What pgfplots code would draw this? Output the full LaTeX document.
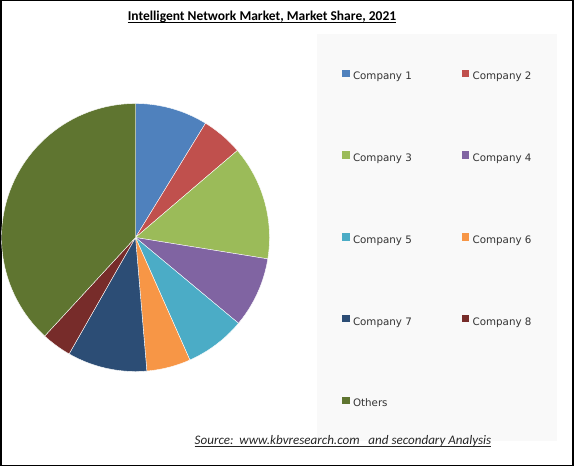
\documentclass[border=0pt]{standalone}
\usepackage{pgfplots}
\pgfplotsset{compat=1.18}
\usepackage{pgfplotstable}
\usepackage{fontspec}
\setmainfont{DejaVu Sans}
\newfontfamily\calibri{Carlito}
\definecolor{c0}{HTML}{4F81BD}
\definecolor{c1}{HTML}{C0504D}
\definecolor{c2}{HTML}{9BBB59}
\definecolor{c3}{HTML}{8064A2}
\definecolor{c4}{HTML}{4BACC6}
\definecolor{c5}{HTML}{F79646}
\definecolor{c6}{HTML}{2C4D75}
\definecolor{c7}{HTML}{772C2A}
\definecolor{c8}{HTML}{5F7530}
\definecolor{panel}{HTML}{F9F9F9}

\pgfplotstableread[col sep=comma]{
label,share
Company 1,8.75
Company 2,5.0
Company 3,13.8
Company 4,8.5
Company 5,7.3
Company 6,5.3
Company 7,9.6
Company 8,3.6
Others,38.15
}\piedata

\def\cumul{0}
\pgfplotsforeachungrouped \i in {0,...,8}{%
  \pgfplotstablegetelem{\i}{share}\of\piedata
  \pgfmathsetmacro\tmpHi{90-3.6*\cumul}%
  \pgfmathsetmacro\cumul{\cumul+\pgfplotsretval}%
  \pgfmathsetmacro\tmpLo{90-3.6*\cumul}%
  \expandafter\xdef\csname pieHi\i\endcsname{\tmpHi}%
  \expandafter\xdef\csname pieLo\i\endcsname{\tmpLo}%
  \pgfplotstablegetelem{\i}{label}\of\piedata
  \expandafter\xdef\csname pieLab\i\endcsname{\pgfplotsretval}%
}

\begin{document}
\begin{tikzpicture}[x=1bp,y=1bp]
\path[use as bounding box] (0,0) rectangle (576,-467);
\fill[white] (0,0) rectangle (576,-467);
\fill[panel] (317,-34) rectangle (557,-441);
\draw[line width=1.5bp] (0.75,-0.75) rectangle (573,-465.5);

\node[anchor=base, inner sep=0pt, font=\calibri\bfseries\fontsize{13.5bp}{16bp}\selectfont] (t) at (262,-20.3)
  {Intelligent Network Market, Market Share, 2021};
\draw[line width=0.8bp] ([yshift=-2bp]t.base west) -- ([yshift=-2bp]t.base east);

\node[anchor=base, inner sep=0pt, text=black!85, font=\calibri\itshape\fontsize{13.05bp}{15bp}\selectfont] (s) at (343,-444.3)
  {Source:\ \ www.kbvresearch.com\ \ \ and secondary Analysis};
\draw[line width=0.6bp, black!85] ([yshift=-2.2bp]s.base west) -- ([yshift=-2.2bp]s.base east);

\begin{axis}[
  at={(135.5bp,-237.5bp)}, anchor=origin,
  scale only axis, width=268bp, height=268bp,
  xmin=-1, xmax=1, ymin=-1, ymax=1,
  hide axis, clip=false,
  legend columns=2,
  legend cell align=left,
  legend image code/.code={\fill[#1,draw=none] (0bp,0bp) rectangle (7.3bp,7.3bp);},
  legend style={draw=none, fill=none, inner sep=0pt,
    at={(1.2705,1.1269)}, anchor=north west,
    font=\fontsize{10.3bp}{12bp}\selectfont, text=black!80,
    nodes={inner sep=0pt, text height=7.5bp, text depth=2bp},
    /tikz/every odd column/.append style={column sep=3.5bp},
    /tikz/every even column/.append style={column sep=50bp},
    row sep=69.75bp},
]
\pgfplotsinvokeforeach{0,...,8}{
  \addplot[fill=c#1, draw=white, line width=0.4pt,
    domain=\csname pieLo#1\endcsname:\csname pieHi#1\endcsname,
    samples=90, variable=\t]
    ({cos(\t)},{sin(\t)}) -- (axis cs:0,0) -- cycle;
  \addlegendentryexpanded{\csname pieLab#1\endcsname}
}
\end{axis}
\end{tikzpicture}
\end{document}
